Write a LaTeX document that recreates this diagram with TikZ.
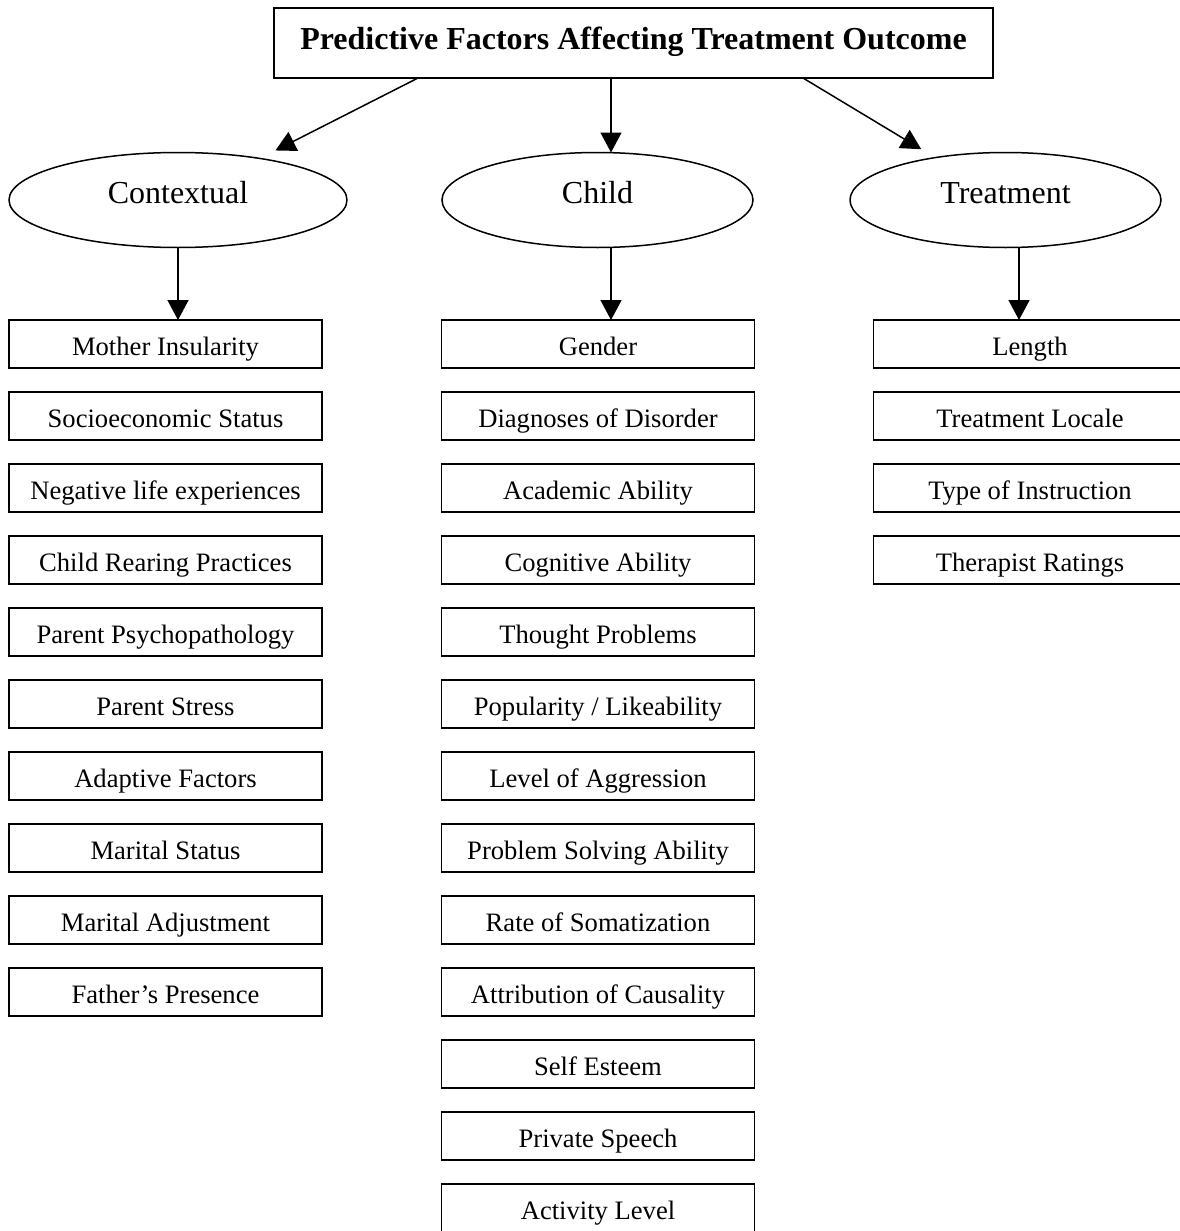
\documentclass[tikz,border=0pt]{standalone}
\usepackage{fontspec}
\setmainfont{Liberation Serif}
\usetikzlibrary{shapes.geometric,arrows.meta,calc}
\begin{document}
\begin{tikzpicture}[x=1pt,y=-1pt,
  every node/.style={inner sep=0pt, outer sep=0pt},
  itembox/.style={draw, line width=1.8pt, minimum width=313pt, minimum height=48pt,
    text height=22pt, text depth=0pt, font=\fontsize{26.6}{30}\selectfont},
  catell/.style={draw, ellipse, line width=1.5pt, minimum height=95pt,
    text height=15pt, text depth=8pt, font=\fontsize{32}{36}\selectfont},
  titlebox/.style={draw, line width=1.8pt, minimum width=719pt, minimum height=70pt,
    text height=24pt, text depth=10pt, font=\bfseries\fontsize{32}{36}\selectfont},
  arr/.style={line width=1.5pt, -{Triangle[length=20pt,width=21pt]}}]
\useasboundingbox (0,0) rectangle (1180,1231);
\clip (0,0) rectangle (1180,1231);

\node[titlebox] (title) at (633.5,43) {Predictive Factors Affecting Treatment Outcome};

\node[catell, minimum width=338pt] (ctx) at (178,200) {Contextual};
\node[catell, minimum width=311pt] (chi) at (597.5,200) {Child};
\node[catell, minimum width=311pt] (trt) at (1005.5,200) {Treatment};

\foreach [count=\i] \t in {Mother Insularity, Socioeconomic Status, Negative life experiences,
  Child Rearing Practices, Parent Psychopathology, Parent Stress, Adaptive Factors,
  Marital Status, Marital Adjustment, Father’s Presence}
  \node[itembox] (c\i) at (165.5,{344+72*(\i-1)}) {\t};

\foreach [count=\i] \t in {Gender, Diagnoses of Disorder, Academic Ability, Cognitive Ability,
  Thought Problems, Popularity / Likeability, Level of Aggression, Problem Solving Ability,
  Rate of Somatization, Attribution of Causality, Self Esteem, Private Speech, Activity Level}
  \node[itembox] (k\i) at (598,{344+72*(\i-1)}) {\t};

\foreach [count=\i] \t in {Length, Treatment Locale, Type of Instruction, Therapist Ratings}
  \node[itembox] (t\i) at (1030,{344+72*(\i-1)}) {\t};

\coordinate (s1) at ($(title.south west)+(144,0)$);
\coordinate (s2) at ($(title.south west)+(337,0)$);
\coordinate (s3) at ($(title.south west)+(529,0)$);
\draw[arr] (s1) -- ($(s1)!0.594!(ctx.center)$);
\draw[arr] (s2) -- (s2 |- chi.north);
\draw[arr] (s3) -- ($(s3)!0.584!(trt.center)$);

\coordinate (d2) at ($(chi.south)+(13.5,0)$);
\coordinate (d3) at ($(trt.south)+(13.5,0)$);
\draw[arr] (ctx.south) -- (ctx.south |- c1.north);
\draw[arr] (d2) -- (d2 |- k1.north);
\draw[arr] (d3) -- (d3 |- t1.north);
\end{tikzpicture}
\end{document}
